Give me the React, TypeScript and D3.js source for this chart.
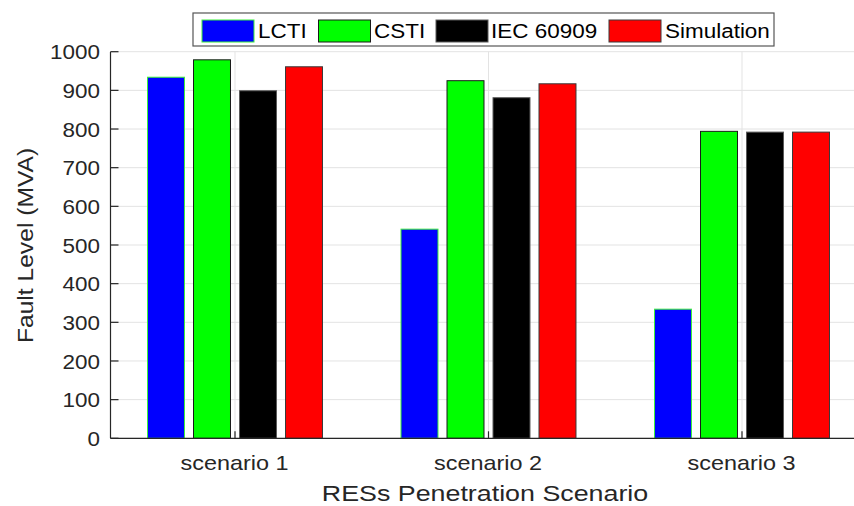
import React from "react";
import * as d3 from "d3";

const categories = ["scenario 1", "scenario 2", "scenario 3"];
const seriesNames = ["LCTI", "CSTI", "IEC 60909", "Simulation"];
const lcti = [934, 541, 334];
const csti = [979, 925, 794];
const iec60909 = [899, 881, 792];
const simulation = [961, 917, 792];
const yTicks = [0, 100, 200, 300, 400, 500, 600, 700, 800, 900, 1000];

const fills = ["#0000ff", "#00ff00", "#000000", "#ff0000"];
const edges = ["#3cf03c", "#1a1a1a", "#5a5a5a", "#3a3a3a"];

const W = 854;
const H = 506;
const left = 110.5;
const right = 854;
const top = 51.7;
const bottom = 438.3;
const font = "'Liberation Sans', Arial, sans-serif";
const axisColor = "#262626";

// text in the original is a bit wider than Arial, so stretch it
function Label({ x, y, sx = 1, rotate = 0, anchor = "start", size, fill, dy, children }: any) {
  return (
    <text
      transform={`translate(${x},${y}) rotate(${rotate}) scale(${sx},1)`}
      textAnchor={anchor}
      fontSize={size}
      fill={fill}
      dy={dy}
    >
      {children}
    </text>
  );
}

function App() {
  const series = [lcti, csti, iec60909, simulation];

  // group positions (1, 2, 3) like matlab's bar
  const x = d3.scaleLinear().domain([1, 3]).range([235, 742]);
  const y = d3.scaleLinear().domain([0, 1000]).range([bottom, top]);
  const inner = d3
    .scaleBand<number>()
    .domain([0, 1, 2, 3])
    .range([-92, 92])
    .paddingInner(0.196)
    .paddingOuter(0.098);

  // legend layout
  const legendItems = [
    { swatch: 202, text: 258 },
    { swatch: 318.5, text: 374 },
    { swatch: 436, text: 491 },
    { swatch: 609, text: 665 },
  ];

  return (
    <svg
      width={W}
      height={H}
      style={{ position: "absolute", left: 0, top: 0, background: "#fff" }}
      fontFamily={font}
    >
      <rect x={0} y={0} width={W} height={H} fill="#fff" />

      {/* grid */}
      <g stroke="#e3e3e3" strokeWidth={1}>
        {yTicks.map((t) => (
          <line key={"gy" + t} x1={left} x2={right} y1={y(t)} y2={y(t)} />
        ))}
        {categories.map((c, i) => (
          <line key={"gx" + c} x1={x(i + 1)} x2={x(i + 1)} y1={top} y2={bottom} />
        ))}
      </g>

      {/* bars */}
      {series.map((vals, s) => (
        <g key={seriesNames[s]} fill={fills[s]} stroke={edges[s]} strokeWidth={1}>
          {vals.map((v, i) => (
            <rect
              key={i}
              x={x(i + 1) + (inner(s) as number)}
              y={y(v)}
              width={inner.bandwidth()}
              height={y(0) - y(v)}
            />
          ))}
        </g>
      ))}

      {/* axes */}
      <g stroke={axisColor} strokeWidth={1.2} fill="none">
        <line x1={left} x2={left} y1={top} y2={bottom} />
        <line x1={left} x2={right} y1={bottom} y2={bottom} />
        {yTicks.map((t) => (
          <line key={"ty" + t} x1={left} x2={left + 8} y1={y(t)} y2={y(t)} />
        ))}
        {categories.map((c, i) => (
          <line key={"tx" + c} x1={x(i + 1)} x2={x(i + 1)} y1={bottom} y2={bottom - 7} />
        ))}
      </g>

      {/* tick labels */}
      {yTicks.map((t) => (
        <Label key={"ly" + t} x={100} y={y(t)} dy="0.36em" anchor="end" size={21} sx={1.07} fill={axisColor}>
          {t}
        </Label>
      ))}
      {categories.map((c, i) => (
        <Label key={"lx" + c} x={x(i + 1) - 0.5} y={470} anchor="middle" size={21} sx={1.115} fill={axisColor}>
          {c}
        </Label>
      ))}

      {/* axis titles */}
      <Label x={485} y={501} anchor="middle" size={22} sx={1.22} fill={axisColor}>
        RESs Penetration Scenario
      </Label>
      <Label x={33} y={245.5} rotate={-90} anchor="middle" size={22} sx={1.12} fill={axisColor}>
        Fault Level (MVA)
      </Label>

      {/* legend */}
      <rect x={193} y={13} width={581} height={33} fill="#fff" stroke="#555" strokeWidth={1.2} />
      {seriesNames.map((name, s) => (
        <g key={"lg" + name}>
          <rect
            x={legendItems[s].swatch}
            y={20}
            width={52}
            height={22}
            fill={fills[s]}
            stroke={edges[s]}
            strokeWidth={1}
          />
          <Label x={legendItems[s].text} y={38} size={21} sx={1.07} fill="#000">
            {name}
          </Label>
        </g>
      ))}
    </svg>
  );
}

export default App;
